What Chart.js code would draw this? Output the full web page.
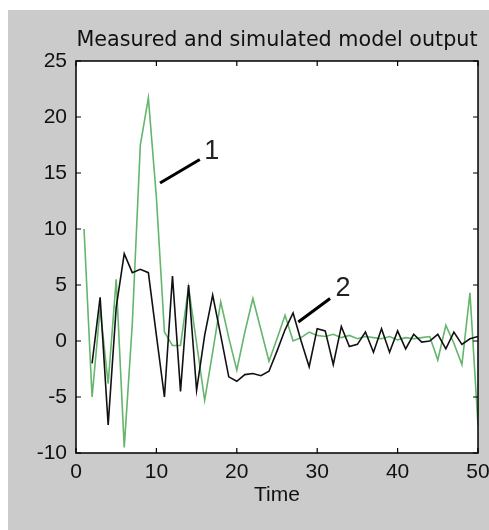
<!DOCTYPE html>
<html>
<head>
<meta charset="utf-8">
<script src="https://cdn.jsdelivr.net/npm/chart.js@4"></script>
<style>
  html, body { margin: 0; padding: 0; background: #ffffff; }
  #wrap { position: relative; width: 489px; height: 530px; }
  canvas { display: block; }
</style>
</head>
<body>
<div id="wrap"><canvas id="c" width="489" height="530"></canvas></div>
<script>
// ---- data ----
const time = [1,2,3,4,5,6,7,8,9,10,11,12,13,14,15,16,17,18,19,20,21,22,23,24,25,26,27,28,29,30,31,32,33,34,35,36,37,38,39,40,41,42,43,44,45,46,47,48,49,50];
const measured = [10,-5,2.9,-3.8,5.5,-9.5,1.5,17.5,21.7,12.8,0.8,-0.4,-0.4,4.8,-0.2,-5.3,-1,3.5,0.3,-2.6,0.8,3.8,1,-1.8,0.2,2.3,0,0.3,0.8,0.5,0.4,0.6,0.3,0.5,0.2,0.4,0.3,0.2,0.4,0.1,0.3,0.2,0.3,0.4,-1.7,1.4,-0.2,-2.1,4.3,-7.5];
const simulated = [null,-2,3.9,-7.5,3,7.8,6.1,6.4,6.1,0.5,-5,5.8,-4.5,5,-4.4,0.5,4.1,0.5,-3.2,-3.6,-3.0,-2.9,-3.1,-2.7,-0.9,1.0,2.5,0,-2.3,1.1,0.9,-2.1,1.3,-0.5,-0.3,0.8,-1,1.1,-1,0.9,-0.7,0.6,-0.1,0,0.6,-0.7,0.8,-0.3,0.2,0.4];
const xTicks = [0,10,20,30,40,50];
const yTicks = [-10,-5,0,5,10,15,20,25];
const titleText = 'Measured and simulated model output';
const xTitle = 'Time';
// annotation labels (data coordinates)
const notes = [
  { label: '1', from: [10.45, 14.1], to: [15.4, 16.2], text: [16.9, 16.9] },
  { label: '2', from: [27.65, 1.7], to: [31.6, 3.8], text: [33.2, 4.7] }
];

const FONT = "'Liberation Sans', Arial, sans-serif";
const TFONT = "'DejaVu Sans', 'Liberation Sans', sans-serif";

const toPts = (arr) => time.map((t, i) => ({ x: t, y: arr[i] }));

const bgPlugin = {
  id: 'bg',
  beforeDraw(chart) {
    const ctx = chart.ctx;
    ctx.save();
    ctx.fillStyle = '#ffffff';
    ctx.fillRect(0, 0, chart.width, chart.height);
    ctx.fillStyle = '#cbcbcb';
    ctx.fillRect(8, 10, chart.width - 8, chart.height - 10);
    const a = chart.chartArea;
    ctx.fillStyle = '#ffffff';
    ctx.fillRect(a.left, a.top, a.right - a.left, a.bottom - a.top);
    ctx.restore();
  }
};

const boxPlugin = {
  id: 'box',
  afterDraw(chart) {
    const ctx = chart.ctx;
    const a = chart.chartArea;
    const xs = chart.scales.x, ys = chart.scales.y;
    ctx.save();
    // title centred over the plot box
    ctx.fillStyle = '#111';
    ctx.font = "20.7px " + TFONT;
    ctx.textAlign = 'center';
    ctx.textBaseline = 'alphabetic';
    ctx.fillText(titleText, (a.left + a.right) / 2, 46);
    // box
    ctx.strokeStyle = '#000';
    ctx.lineWidth = 1.5;
    ctx.strokeRect(a.left, a.top, a.right - a.left, a.bottom - a.top);
    ctx.lineWidth = 1.2;
    const tl = 5;
    ctx.beginPath();
    xTicks.forEach(v => {
      const px = xs.getPixelForValue(v);
      ctx.moveTo(px, a.bottom); ctx.lineTo(px, a.bottom - tl);
      ctx.moveTo(px, a.top); ctx.lineTo(px, a.top + tl);
    });
    yTicks.forEach(v => {
      const py = ys.getPixelForValue(v);
      ctx.moveTo(a.left, py); ctx.lineTo(a.left + tl, py);
      ctx.moveTo(a.right, py); ctx.lineTo(a.right - tl, py);
    });
    ctx.stroke();
    // annotations
    ctx.strokeStyle = '#000';
    ctx.lineWidth = 3;
    ctx.fillStyle = '#222';
    ctx.font = "27px " + FONT;
    ctx.textAlign = 'center';
    ctx.textBaseline = 'middle';
    notes.forEach(n => {
      ctx.beginPath();
      ctx.moveTo(xs.getPixelForValue(n.from[0]), ys.getPixelForValue(n.from[1]));
      ctx.lineTo(xs.getPixelForValue(n.to[0]), ys.getPixelForValue(n.to[1]));
      ctx.stroke();
      ctx.fillText(n.label, xs.getPixelForValue(n.text[0]), ys.getPixelForValue(n.text[1]));
    });
    ctx.restore();
  }
};

new Chart(document.getElementById('c'), {
  type: 'line',
  data: {
    datasets: [
      { label: 'simulated', data: toPts(simulated), borderColor: '#111111', borderWidth: 1.6, pointRadius: 0, tension: 0, spanGaps: false },
      { label: 'measured', data: toPts(measured), borderColor: 'rgb(100,182,108)', borderWidth: 1.6, pointRadius: 0, tension: 0 }
    ]
  },
  options: {
    responsive: false,
    animation: false,
    layout: { padding: { left: 0, right: 11, top: 61, bottom: 22 } },
    plugins: {
      legend: { display: false },
      tooltip: { enabled: false },
      title: { display: false }
    },
    scales: {
      x: {
        type: 'linear',
        min: 0, max: 50,
        afterBuildTicks(s) { s.ticks = xTicks.map(v => ({ value: v })); },
        afterFit(s) { s.height = 530 - 22 - 453; s.paddingLeft = 0; s.paddingRight = 0; },
        grid: { display: false, drawTicks: false },
        border: { display: false },
        ticks: { color: '#111', font: { family: FONT, size: 21 }, padding: 7, maxRotation: 0, autoSkip: false },
        title: { display: true, text: xTitle, color: '#111', font: { family: FONT, size: 21 }, padding: { top: 0, bottom: 0 } }
      },
      y: {
        type: 'linear',
        min: -10, max: 25,
        afterBuildTicks(s) { s.ticks = yTicks.map(v => ({ value: v })); },
        afterFit(s) { s.width = 76; s.paddingTop = 0; s.paddingBottom = 0; },
        grid: { display: false, drawTicks: false },
        border: { display: false },
        ticks: { color: '#111', font: { family: FONT, size: 21 }, padding: 9, autoSkip: false }
      }
    }
  },
  plugins: [bgPlugin, boxPlugin]
});
</script>
</body>
</html>
